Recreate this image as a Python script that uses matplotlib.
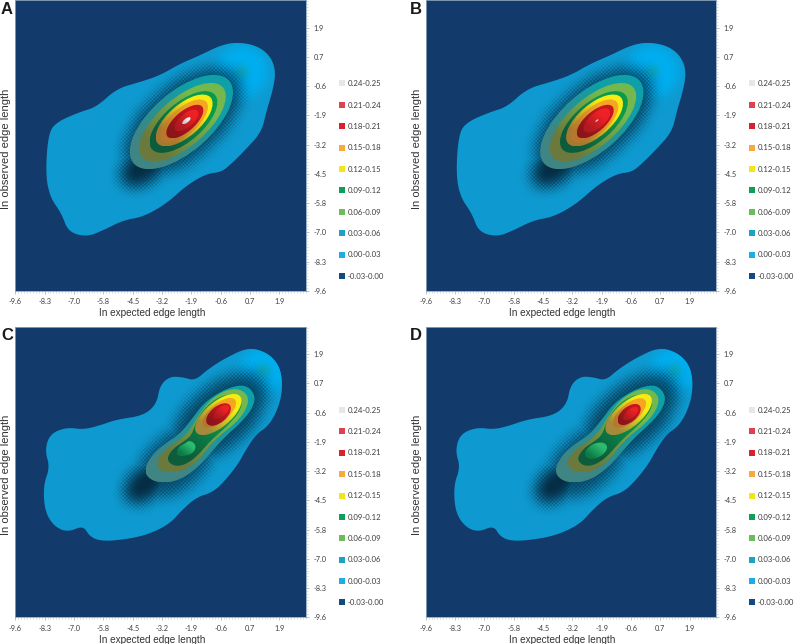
import numpy as np
import matplotlib
matplotlib.use('Agg')
import matplotlib.pyplot as plt
from matplotlib.colors import LinearSegmentedColormap, to_rgb
from matplotlib.lines import Line2D
from matplotlib.patches import Ellipse, Polygon

tick_pos = [-9.6, -8.32, -7.04, -5.76, -4.48, -3.2, -1.92, -0.64, 0.64, 1.92]
tick_labels = ['-9.6', '-8.3', '-7.0', '-5.8', '-4.5', '-3.2', '-1.9', '-0.6', '0.7', '1.9']
legend_labels = ['0.24-0.25', '0.21-0.24', '0.18-0.21', '0.15-0.18', '0.12-0.15',
                 '0.09-0.12', '0.06-0.09', '0.03-0.06', '0.00-0.03', '-0.03-0.00']
legend_colors = ['#e6e7e8', '#e0404f', '#d9202e', '#f7a93b', '#f2e61a',
                 '#0f9d58', '#6abd5a', '#1ba3c4', '#1cade4', '#144a80']

# outer edge of the 0.00 contour, panels A and B
outline_ab_x = [0.06, 0.93, 1.51, 1.77, 1.66, 1.37, 1.15, 0.42, -0.16, -0.6, -1.25, -2.12, -3.0, -4.01, -4.89, -5.76,
                -6.49, -7.29, -7.58, -8.09, -8.28, -8.16, -7.8, -6.78, -6.05, -5.18, -4.16, -3.29, -2.41, -1.54, -0.67]
outline_ab_y = [1.29, 1.14, 0.71, 0.05, -0.75, -1.7, -2.65, -3.45, -4.03, -4.4, -4.47, -4.98, -5.78, -6.36, -6.51, -6.95,
                -7.24, -7.02, -6.22, -5.49, -4.47, -2.72, -2.21, -1.77, -1.55, -0.75, -0.46, -0.17, 0.34, 0.71, 1.14]
# same for panels C and D
outline_cd_x = [0.57, 1.37, 1.88, 2.05, 2.02, 1.73, 1.37, 0.93, 0.49, 0.13, -0.38, -0.96, -1.69, -2.34, -2.85, -3.72,
                -4.6, -5.76, -6.34, -6.63, -7.29, -7.87, -8.31, -8.38, -8.09, -8.31, -8.09, -7.36, -6.63, -5.91, -5.18,
                -4.01, -3.43, -3.29, -2.85, -2.27, -1.76, -1.18, -0.38]
outline_cd_y = [2.22, 2.0, 1.49, 0.84, 0.04, -0.77, -1.28, -1.57, -2.22, -2.88, -3.54, -4.12, -4.34, -4.92, -5.5, -5.94,
                -6.16, -6.28, -6.09, -5.58, -5.87, -5.65, -4.99, -3.83, -3.03, -2.3, -1.57, -1.28, -1.38, -1.2, -0.94,
                -0.77, -0.26, 0.55, 0.95, 0.91, 0.76, 1.27, 1.78]

# A, B: contour bands, outermost first (teal, olive, green, yellow, orange, dark red, red, grey)
band_dark = ['#3f8583', '#6b7a3c', '#0d5c3c', '#a57a30', '#b8782c', '#8c1519', '#b01a20', '#c9c9c9']
band_bright = ['#0f9fa8', '#74b84e', '#0a9a4c', '#f7ec12', '#f5a623', '#c8161e', '#ee2226', '#f2f2f2']
a_cx = [-2.35, -2.30, -2.26, -2.23, -2.23, -2.20, -2.13, -2.13]
a_cy = [-2.21, -2.22, -2.21, -2.14, -2.17, -2.19, -2.14, -2.15]
a_semi_major = [2.76, 2.33, 1.82, 1.53, 1.28, 1.0, 0.64, 0.22]
a_semi_minor = [1.31, 1.05, 0.84, 0.70, 0.58, 0.44, 0.29, 0.09]
a_angle = [41, 41, 41, 41, 41, 41, 41, 38]
b_semi_major = [2.76, 2.33, 1.82, 1.53, 1.28, 1.0, 0.72, 0.08]
b_semi_minor = [1.31, 1.05, 0.84, 0.70, 0.58, 0.44, 0.33, 0.03]

# C, D: the two-humped bands
cd_teal_x = [0.57, 0.9, 0.71, 0.2, -0.45, -1.03, -1.54, -2.27, -3.07, -3.72, -3.99, -3.65, -3.07, -2.49, -1.98, -1.4, -0.67, 0.06]
cd_teal_y = [0.52, 0.05, -0.53, -1.12, -1.7, -2.35, -2.94, -3.52, -3.74, -3.59, -3.16, -2.5, -1.99, -1.63, -1.04, -0.24, 0.27, 0.56]
cd_olive_x = [0.2, 0.61, 0.47, -0.01, -0.67, -1.18, -1.54, -2.2, -2.92, -3.36, -3.43, -3.0, -2.41, -1.98, -1.61, -1.11, -0.45]
cd_olive_y = [0.42, 0.05, -0.53, -1.12, -1.63, -2.14, -2.65, -3.16, -3.3, -3.08, -2.72, -2.21, -1.84, -1.41, -0.75, -0.09, 0.34]
cd_green_x = [-0.09, 0.32, 0.2, -0.31, -0.89, -1.18, -1.76, -2.34, -2.78, -3.0, -2.71, -2.27, -1.91, -1.76, -1.47, -0.89]
cd_green_y = [0.23, -0.09, -0.6, -1.19, -1.7, -1.99, -2.65, -2.98, -2.94, -2.65, -2.21, -1.92, -1.63, -1.19, -0.6, -0.02]
c_spot_x = [-1.98, -1.69, -1.83, -2.34, -2.59, -2.49, -2.2]
c_spot_y = [-1.84, -2.06, -2.43, -2.57, -2.46, -2.14, -1.99]
d_spot_x = [-1.85, -1.63, -1.85, -2.36, -2.72, -2.57, -2.28]
d_spot_y = [-1.92, -2.14, -2.5, -2.72, -2.5, -2.21, -1.99]
spot_dark = '#0c7a48'
spot_bright = '#2dbb70'
# C, D: peak ellipses (yellow, orange, dark red, red)
peak_dark = ['#a58a3a', '#b8782c', '#8c1519', '#b01a20']
peak_bright = ['#f7ec12', '#f5a623', '#c8161e', '#ee2226']
c_cx = [-0.74, -0.70, -0.73, -0.60]
c_cy = [-0.72, -0.65, -0.72, -0.60]
c_semi_major = [1.24, 0.90, 0.64, 0.40]
c_semi_minor = [0.55, 0.40, 0.35, 0.20]
d_cx = [-0.74, -0.70, -0.72, -0.65]
d_cy = [-0.72, -0.65, -0.72, -0.68]
d_semi_major = [1.24, 0.88, 0.60, 0.39]
d_semi_minor = [0.55, 0.40, 0.33, 0.19]
peak_angle = 40

# dark halo below the surface: cx, cy, semi major, semi minor, strength
halo_ab = [(-2.3, -2.2, 3.1, 1.6, 0.70), (-3.9, -4.05, 1.3, 0.75, 0.95)]
halo_cd = [(-0.7, -0.85, 2.5, 1.35, 0.70), (-2.6, -2.8, 2.0, 1.2, 0.65), (-3.9, -3.75, 1.1, 0.7, 0.95)]
# bright patch at the upper right: cx, cy, radius, and its small teal centre
glow_ab = (0.3, 0.0, 1.15, 0.28)
glow_cd = (1.25, 1.2, 1.05, 0.3)

base_color = '#0e9ad0'
glow_color = '#00aeef'
halo_color = '#05263c'
bg_color = '#123a6b'
XMIN, XMAX = -9.6, 3.08
YMIN, YMAX = -9.6, 3.12


def smooth(x, y, n=3):
    # chaikin corner cutting on the closed outline
    p = np.column_stack([x, y])
    for _ in range(n):
        q = np.roll(p, -1, axis=0)
        p = np.column_stack([0.75*p + 0.25*q, 0.25*p + 0.75*q]).reshape(-1, 2)
    return p


def shade(ax, patch, dark, bright):
    # fill a patch with a lit gradient running up to the right
    ext = patch.get_path().transformed(patch.get_patch_transform()).get_extents()
    t = np.linspace(0, 1, 64)
    X, Y = np.meshgrid(t, t)
    cmap = LinearSegmentedColormap.from_list('s', [dark, bright])
    im = ax.imshow((X + Y)/2, extent=(ext.x0, ext.x1, ext.y0, ext.y1), origin='lower', cmap=cmap,
                   vmin=0.2, vmax=0.72, aspect='auto', interpolation='bilinear', zorder=4)
    im.set_clip_path(patch)


def soft(ax, items, color, clip, blur=15, dots=False):
    n = 320
    xs = np.linspace(XMIN, XMAX, n)
    ys = np.linspace(YMIN, YMAX, n)
    X, Y = np.meshgrid(xs, ys)
    pts = np.column_stack([X.ravel(), Y.ravel()])
    alpha = np.zeros((n, n))
    kernel = np.ones(blur)/blur
    for cx, cy, a, b, strength, angle in items:
        e = Ellipse((cx, cy), 2*a, 2*b, angle=angle)
        m = e.get_path().transformed(e.get_patch_transform()).contains_points(pts).reshape(n, n).astype(float)
        for _ in range(2):
            m = np.apply_along_axis(lambda r: np.convolve(r, kernel, mode='same'), 0, m)
            m = np.apply_along_axis(lambda r: np.convolve(r, kernel, mode='same'), 1, m)
        alpha = np.maximum(alpha, m*strength)
    if dots:
        i, j = np.indices((n, n))
        checker = ((i//2 + j//2) % 2)*2.0 - 1
        alpha = np.clip(alpha + 0.9*checker*alpha*(0.8 - alpha).clip(0), 0, 1)
    rgba = np.zeros((n, n, 4))
    rgba[..., :3] = to_rgb(color)
    rgba[..., 3] = alpha
    im = ax.imshow(rgba, extent=(XMIN, XMAX, YMIN, YMAX), origin='lower', aspect='auto',
                   interpolation='bilinear', zorder=3)
    im.set_clip_path(clip)


def draw_base(ax, ox, oy, halo, glow):
    ax.set_facecolor(bg_color)
    ax.set_xlim(XMIN, XMAX)
    ax.set_ylim(YMIN, YMAX)
    ax.autoscale(False)
    blob = Polygon(smooth(ox, oy), closed=True, facecolor=base_color, edgecolor='none', zorder=2)
    ax.add_patch(blob)
    gx, gy, gr, sr = glow
    soft(ax, [(gx, gy, gr, gr, 1.0, 0)], glow_color, blob, blur=13)
    soft(ax, [(gx, gy, sr, sr, 0.6, 0)], '#12a5a8', blob, blur=7)
    soft(ax, [h + (41,) for h in halo], halo_color, blob, blur=17, dots=True)


def draw_ellipses(ax, cx, cy, major, minor, angle, dark, bright):
    for k in range(len(cx)):
        ang = angle[k] if np.iterable(angle) else angle
        e = Ellipse((cx[k], cy[k]), 2*major[k], 2*minor[k], angle=ang, transform=ax.transData)
        shade(ax, e, dark[k], bright[k])


def draw_poly(ax, x, y, dark, bright):
    p = Polygon(smooth(x, y), closed=True, transform=ax.transData)
    shade(ax, p, dark, bright)


def finish(ax, letter, lx, ly):
    ax.set_xticks(tick_pos)
    ax.set_xticklabels(tick_labels)
    ax.set_yticks(tick_pos)
    ax.set_yticklabels(tick_labels)
    ax.yaxis.tick_right()
    minor = np.arange(-9.6, 3.1, 0.128)
    ax.set_xticks(minor, minor=True)
    ax.set_yticks(minor, minor=True)
    ax.tick_params(axis='both', which='major', length=2.5, width=0.5, color='#9aa8b6', labelsize=5.3,
                   labelcolor='#3c3c3c', pad=3)
    ax.tick_params(axis='both', which='minor', length=1.5, width=0.4, color='#b4bfca')
    for lab in ax.get_xticklabels() + ax.get_yticklabels():
        lab.set_family('Lato')
    for s in ax.spines.values():
        s.set_color('#8fa6bd')
        s.set_linewidth(0.6)
    ax.set_xlabel('In expected edge length', family='Liberation Sans', fontsize=7.2, color='#333333',
                  x=0.47, labelpad=2)
    ax.set_ylabel('In observed edge length', family='Liberation Sans', fontsize=8, color='#333333',
                  y=0.49, labelpad=3)
    ax.yaxis.set_label_position('left')
    fig.text(lx/798, 1 - ly/644, letter, family='Liberation Sans', fontweight='bold', fontsize=12,
             color='#1a1a1a', va='center', ha='left')
    handles = [Line2D([], [], linestyle='none', marker='s', markersize=3.8, markeredgewidth=0,
                      color=c, label=t) for c, t in zip(legend_colors, legend_labels)]
    leg = ax.legend(handles=handles, loc='upper left', bbox_to_anchor=(1.115, 0.725), frameon=False,
                    prop={'family': 'Lato', 'size': 5.6}, labelspacing=1.85, handlelength=0.7,
                    handletextpad=0.35, borderpad=0, borderaxespad=0)
    for t in leg.get_texts():
        t.set_color('#3c3c3c')


fig = plt.figure(figsize=(7.98, 6.44), dpi=100)


def panel(left, top):
    return fig.add_axes([left/798, 1 - (top + 290.5)/644, 290.5/798, 290.5/644])


ax_a = panel(15.3, 0.3)
ax_b = panel(425.7, 0.3)
ax_c = panel(15.3, 326.8)
ax_d = panel(425.7, 326.8)

draw_base(ax_a, outline_ab_x, outline_ab_y, halo_ab, glow_ab)
draw_ellipses(ax_a, a_cx, a_cy, a_semi_major, a_semi_minor, a_angle, band_dark, band_bright)
finish(ax_a, 'A', 1, 10)

draw_base(ax_b, outline_ab_x, outline_ab_y, halo_ab, glow_ab)
draw_ellipses(ax_b, a_cx, a_cy, b_semi_major, b_semi_minor, a_angle, band_dark, band_bright)
finish(ax_b, 'B', 410, 9)

for ax, sx, sy, cx, cy, maj, mnr, letter, lx in [
        (ax_c, c_spot_x, c_spot_y, c_cx, c_cy, c_semi_major, c_semi_minor, 'C', 1),
        (ax_d, d_spot_x, d_spot_y, d_cx, d_cy, d_semi_major, d_semi_minor, 'D', 410)]:
    draw_base(ax, outline_cd_x, outline_cd_y, halo_cd, glow_cd)
    draw_poly(ax, cd_teal_x, cd_teal_y, band_dark[0], band_bright[0])
    draw_poly(ax, cd_olive_x, cd_olive_y, band_dark[1], band_bright[1])
    draw_poly(ax, cd_green_x, cd_green_y, band_dark[2], band_bright[2])
    draw_poly(ax, sx, sy, spot_dark, spot_bright)
    draw_ellipses(ax, cx, cy, maj, mnr, peak_angle, peak_dark, peak_bright)
    finish(ax, letter, lx, 336)

fig.savefig('out.png', dpi=100)
